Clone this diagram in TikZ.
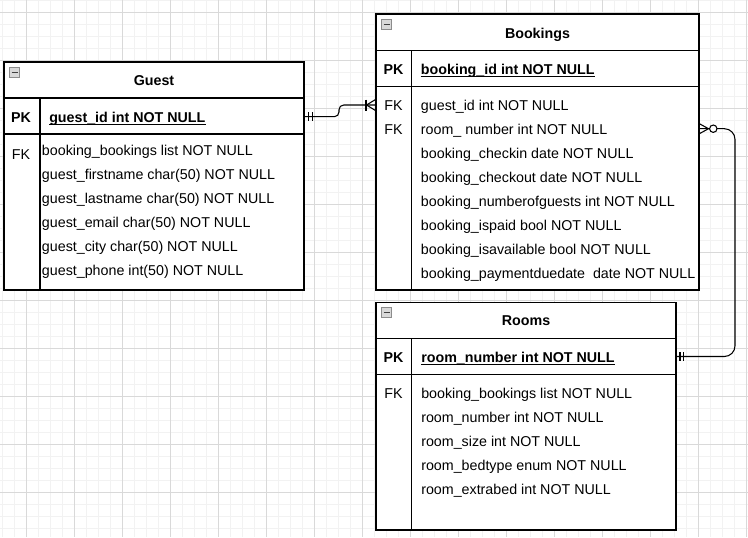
\documentclass[tikz,border=0pt]{standalone}
\usepackage{fontspec}
\setmainfont{Liberation Sans}
\newcommand\erfont{\fontsize{10.7pt}{13pt}\selectfont}
\begin{document}
\begin{tikzpicture}[x=0.75pt,y=-0.75pt,
  minorgrid/.style={draw=black!5, line width=0.75pt},
  majorgrid/.style={draw=black!15, line width=0.75pt},
  tbl/.style={draw=black, line width=0.9pt},
  tblfill/.style={fill=white},
  row/.style={anchor=base west, inner sep=0pt, font=\erfont},
  key/.style={anchor=base, inner sep=0pt, font=\erfont},
  pkkey/.style={anchor=base, inner sep=0pt, font=\erfont\bfseries},
  pkrow/.style={anchor=base west, inner sep=0pt, font=\erfont\bfseries},
  ttl/.style={anchor=base, inner sep=0pt, font=\erfont\bfseries},
  uline/.style={draw=black, line width=0.8pt},
  conn/.style={draw=black, line width=0.8pt},
  icon/.style={draw=black!45, fill=black!15, line width=0.6pt},
  iconbar/.style={draw=black!75, line width=1pt},
]
\useasboundingbox (0,0) rectangle (748,537);
\fill[white] (0,0) rectangle (748,537);
\begin{scope}
\clip (0,0) rectangle (748,537);
\foreach \x in {2,14,...,746} \draw[minorgrid] (\x,0) -- (\x,537);
\foreach \y in {0,12,...,536} \draw[minorgrid] (0,\y) -- (748,\y);
\foreach \x in {26,74,...,746} \draw[majorgrid] (\x,0) -- (\x,537);
\foreach \y in {12,60,...,492} \draw[majorgrid] (0,\y) -- (748,\y);
\end{scope}

% ---------- Guest ----------
\fill[tblfill] (4,62) rectangle (304,290);
\draw[tbl] (4,62) rectangle (304,290);
\draw[tbl] (4,98) -- (304,98);
\draw[tbl] (4,134) -- (304,134);
\draw[tbl] (40,98) -- (40,290);
\draw[icon] (9.5,67.5) rectangle ++(10,10);
\draw[iconbar] (11.5,72.5) -- ++(6,0);
\node[ttl] (gtitle) at (154,85.7) {Guest};
\node[pkkey] (gpkk) at (21,122.3) {PK};
\node[pkrow] (gpkt) at (49,122.3) {guest\_id int NOT NULL};
\draw[uline] ([yshift=-1.3pt]gpkt.base west) -- ([yshift=-1.3pt]gpkt.base east);
\node[key] (gfk) at (21,159) {FK};
\node[row] (g1) at (41.7,155.7) {booking\_bookings list NOT NULL};
\node[row] (g2) at (41.7,179.7) {guest\_firstname char(50) NOT NULL};
\node[row] (g3) at (41.7,203.7) {guest\_lastname char(50) NOT NULL};
\node[row] (g4) at (41.7,227.7) {guest\_email char(50) NOT NULL};
\node[row] (g5) at (41.7,251.7) {guest\_city char(50) NOT NULL};
\node[row] (g6) at (41.7,275.7) {guest\_phone int(50) NOT NULL};

% ---------- Bookings ----------
\fill[tblfill] (376,14) rectangle (699,290);
\draw[tbl] (376,14) rectangle (699,290);
\draw[tbl] (376,50.7) -- (699,50.7);
\draw[tbl] (376,86.7) -- (699,86.7);
\draw[tbl] (411.7,50.7) -- (411.7,290);
\draw[icon] (381.5,19.5) rectangle ++(10,10);
\draw[iconbar] (383.5,24.5) -- ++(6,0);
\node[ttl] (btitle) at (537.5,38.3) {Bookings};
\node[pkkey] (bpkk) at (393.5,74.7) {PK};
\node[pkrow] (bpkt) at (420.7,74.7) {booking\_id int NOT NULL};
\draw[uline] ([yshift=-1.3pt]bpkt.base west) -- ([yshift=-1.3pt]bpkt.base east);
\node[key] (bfk1k) at (393.5,110.7) {FK};
\node[key] (bfk2k) at (393.5,134.7) {FK};
\node[row] (b1) at (420.7,110.7) {guest\_id int NOT NULL};
\node[row] (b2) at (420.7,134.7) {room\_ number int NOT NULL};
\node[row] (b3) at (420.7,158.7) {booking\_checkin date NOT NULL};
\node[row] (b4) at (420.7,182.7) {booking\_checkout date NOT NULL};
\node[row] (b5) at (420.7,206.7) {booking\_numberofguests int NOT NULL};
\node[row] (b6) at (420.7,230.7) {booking\_ispaid bool NOT NULL};
\node[row] (b7) at (420.7,254.7) {booking\_isavailable bool NOT NULL};
\node[row] (b8) at (420.7,278.7) {booking\_paymentduedate\ \ date NOT NULL};

% ---------- Rooms ----------
\fill[tblfill] (376,302.3) rectangle (676,530);
\draw[tbl] (376,302.3) rectangle (676,530);
\draw[tbl] (376,338.3) -- (676,338.3);
\draw[tbl] (376,374.3) -- (676,374.3);
\draw[tbl] (411.7,338.3) -- (411.7,530);
\draw[icon] (381.5,307.7) rectangle ++(10,10);
\draw[iconbar] (383.5,312.7) -- ++(6,0);
\node[ttl] (rtitle) at (526,325.7) {Rooms};
\node[pkkey] (rpkk) at (393.5,362.7) {PK};
\node[pkrow] (rpkt) at (421,362.7) {room\_number int NOT NULL};
\draw[uline] ([yshift=-1.3pt]rpkt.base west) -- ([yshift=-1.3pt]rpkt.base east);
\node[key] (rfk) at (393.5,398.3) {FK};
\node[row] (r1) at (421,398.3) {booking\_bookings list NOT NULL};
\node[row] (r2) at (421,422.3) {room\_number int NOT NULL};
\node[row] (r3) at (421,446.3) {room\_size int NOT NULL};
\node[row] (r4) at (421,470.3) {room\_bedtype enum NOT NULL};
\node[row] (r5) at (421,494.3) {room\_extrabed int NOT NULL};

% ---------- connector anchors ----------
\coordinate (gpk) at (304,116.7);
\coordinate (bfk1) at (376,105);
\coordinate (bfk2) at (699,128.7);
\coordinate (rpk) at (676,356.5);

% Guest -> Bookings (one to many)
\draw[conn, rounded corners=3.5] (gpk) -- ++(35,0) |- (bfk1);
\draw[conn] ([xshift=3.3pt]gpk) ++(0,-4.5) -- ++(0,9);
\draw[conn] ([xshift=6.5pt]gpk) ++(0,-4.5) -- ++(0,9);
\draw[conn] ([xshift=-7.5pt]bfk1) ++(0,-5.5) -- ++(0,11);
\draw[conn] (bfk1) ++(0,-5.8) -- ++(-9.5,5.8) -- ++(9.5,5.8);

% Rooms -> Bookings (one to zero-or-many)
\draw[conn, rounded corners=8] (bfk2) -- ++(36,0) |- (rpk);
\draw[conn] ([xshift=3pt]rpk) ++(0,-4.5) -- ++(0,9);
\draw[conn] ([xshift=5.6pt]rpk) ++(0,-4.5) -- ++(0,9);
\draw[conn] (bfk2) ++(0,-5.2) -- ++(9.5,5.2) -- ++(-9.5,5.2);
\draw[conn, fill=white] ([xshift=10.7pt]bfk2) circle[radius=3.7];
\end{tikzpicture}
\end{document}
